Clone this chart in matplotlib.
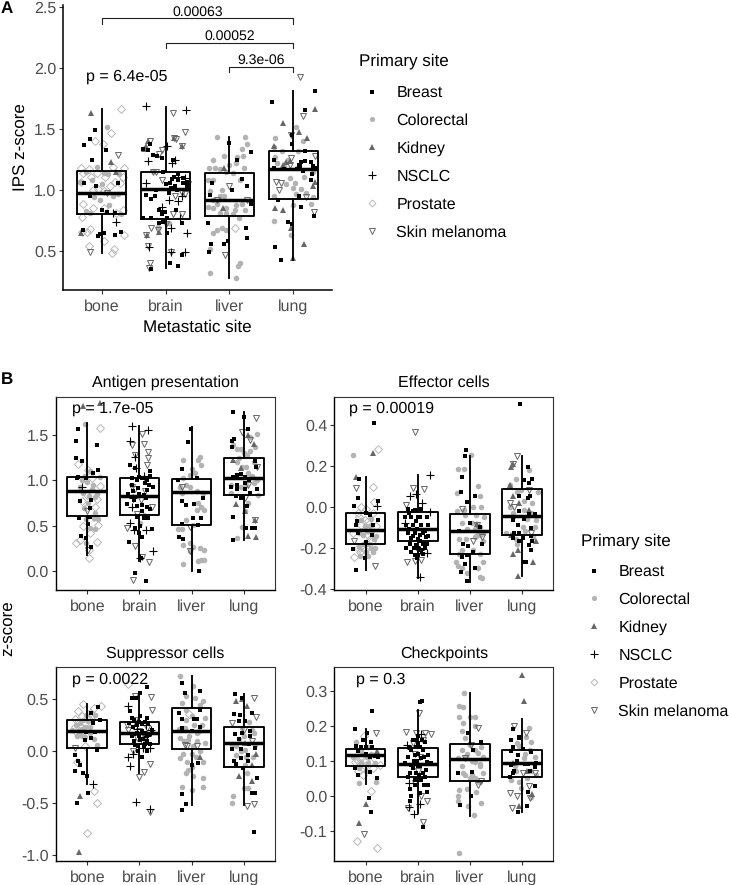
import numpy as np
import matplotlib
matplotlib.use('Agg')
import matplotlib.pyplot as plt
from matplotlib.lines import Line2D

plt.rcParams['font.family'] = ['Liberation Sans', 'DejaVu Sans']
plt.rcParams['text.hinting'] = 'no_hinting'
plt.rcParams['text.hinting_factor'] = 1

sites = ['bone', 'brain', 'liver', 'lung']
primary = ['Breast', 'Colorectal', 'Kidney', 'NSCLC', 'Prostate', 'Skin melanoma']

# box stats per metastatic site: q1, median, q3, whisker low, whisker high
a_boxes = [(0.80, 0.98, 1.16, 0.48, 1.67), (0.76, 1.01, 1.15, 0.36, 1.68), (0.79, 0.92, 1.14, 0.28, 1.44), (0.93, 1.17, 1.32, 0.43, 1.81)]
ag_boxes = [(0.605, 0.88, 1.04, 0.18, 1.63), (0.615, 0.83, 1.02, 0.11, 1.60), (0.51, 0.87, 1.01, 0.0, 1.59), (0.84, 1.03, 1.25, 0.34, 1.75)]
ef_boxes = [(-0.18, -0.115, -0.033, -0.31, 0.144), (-0.169, -0.108, -0.024, -0.35, 0.155), (-0.23, -0.12, -0.038, -0.366, 0.245), (-0.138, -0.048, 0.087, -0.34, 0.245)]
su_boxes = [(0.03, 0.20, 0.30, -0.31, 0.46), (0.07, 0.18, 0.28, -0.21, 0.55), (0.02, 0.196, 0.415, -0.515, 0.73), (-0.148, 0.084, 0.235, -0.515, 0.55)]
ch_boxes = [(0.086, 0.116, 0.133, 0.034, 0.19), (0.053, 0.091, 0.137, -0.05, 0.246), (0.043, 0.106, 0.148, -0.057, 0.293), (0.053, 0.093, 0.13, -0.047, 0.22)]

# panel A, IPS z-score, points as (jittered site position, value)
a_breast = [(0.89, 1.49), (0.81, 1.42), (0.73, 1.37), (1.07, 1.33), (0.85, 1.25), (0.73, 1.06), (0.91, 1.03), (0.82, 0.95),
            (1.0, 0.84), (1.09, 0.82), (1.21, 0.81), (0.71, 0.67), (0.94, 0.62), (1.03, 0.65), (0.98, 0.64), (1.21, 0.63), (1.30, 0.66), (1.26, 1.06),
            (1.65, 1.34), (1.80, 1.29), (1.86, 1.28), (1.94, 1.26), (2.11, 1.25), (1.96, 1.15), (2.13, 1.11), (2.20, 1.08), (2.07, 1.06), (2.28, 1.06),
            (2.33, 1.07), (2.15, 1.03), (2.09, 1.02), (1.70, 0.96), (1.83, 0.95), (1.78, 0.93), (1.89, 0.84), (1.99, 0.82), (1.94, 0.82), (2.16, 0.84),
            (1.65, 0.77), (1.78, 0.77), (1.89, 0.73), (1.96, 0.74), (2.25, 0.73), (2.02, 0.65), (2.07, 0.40), (2.19, 0.38), (2.25, 0.47), (1.78, 0.35),
            (2.20, 1.13), (2.27, 1.10), (2.33, 1.03), (2.10, 1.09), (2.18, 1.00), (2.0, 1.05), (2.05, 0.98), (1.85, 1.0), (1.72, 1.33), (1.76, 1.38), (1.95, 0.80), (2.02, 0.77),
            (3.0, 1.39), (3.33, 1.31), (3.12, 1.25), (2.72, 1.06), (3.19, 1.09), (3.28, 1.03), (3.04, 1.00), (2.69, 0.96), (3.33, 0.89), (2.67, 0.73),
            (3.26, 0.69), (3.28, 0.61), (2.71, 0.56), (2.91, 0.56), (2.97, 0.58), (2.68, 0.49),
            (3.66, 1.72), (4.34, 1.81), (4.19, 1.66), (3.98, 1.38), (3.98, 1.45), (4.19, 1.32), (4.12, 1.23), (4.09, 1.21), (4.27, 1.23), (4.30, 1.20),
            (4.35, 1.18), (3.69, 1.18), (3.69, 1.25), (4.27, 1.08), (4.09, 0.95), (4.12, 0.86), (4.33, 0.79), (3.91, 0.74), (3.98, 0.72), (3.72, 0.53), (3.80, 0.43), (3.76, 0.92), (4.15, 1.16),
            (4.10, 1.20), (4.18, 1.24), (4.05, 1.17), (4.29, 1.13), (3.85, 1.17)]
a_colorectal = [(1.09, 1.52), (0.66, 1.07), (1.03, 1.14), (1.18, 0.95), (0.97, 0.92), (0.82, 0.81),
                (0.75, 1.15), (0.92, 1.19), (1.10, 1.13), (1.27, 1.13), (0.85, 1.08), (1.0, 1.05), (1.25, 0.97), (0.88, 0.94), (1.12, 0.88), (0.76, 0.83), (1.30, 0.80),
                (1.80, 1.16), (2.05, 0.73), (1.88, 0.70),
                (2.80, 1.44), (3.25, 1.44), (3.27, 1.38), (3.19, 1.34), (3.12, 1.27), (3.21, 1.28), (2.91, 1.28), (2.74, 1.25), (2.68, 1.18), (2.77, 1.18),
                (2.85, 1.17), (3.0, 1.21), (2.95, 1.15), (3.06, 1.14), (2.67, 1.08), (2.74, 1.08), (3.16, 1.08), (2.88, 1.0), (2.69, 0.99), (2.85, 0.95),
                (2.80, 0.89), (2.67, 0.86), (2.74, 0.85), (2.95, 0.85), (3.11, 0.88), (3.19, 0.89), (3.08, 0.84), (3.24, 0.84), (2.85, 0.81), (2.95, 0.81),
                (2.88, 0.69), (2.80, 0.67), (2.95, 0.67), (2.74, 0.65), (2.69, 0.52), (2.70, 0.32), (3.11, 0.28), (3.17, 0.40), (3.14, 0.38),
                (3.22, 1.18), (3.10, 1.22), (2.92, 0.95), (3.05, 0.80), (2.75, 0.92), (3.15, 0.77),
                (4.04, 1.52), (3.71, 1.43), (3.69, 1.35), (3.82, 1.32), (3.91, 1.25), (4.02, 1.06), (3.99, 1.02), (4.16, 1.11), (4.12, 1.01), (4.27, 0.89), (3.70, 0.75), (3.97, 0.63), (4.04, 0.97), (4.20, 0.98),
                (3.85, 1.20), (4.08, 1.32), (4.30, 1.15), (3.95, 1.10), (3.88, 1.05), (4.15, 1.40), (3.75, 1.22), (4.05, 1.18), (3.70, 0.95), (4.31, 0.94), (4.0, 0.88), (3.72, 1.27)]
a_kidney = [(0.84, 1.63), (1.14, 1.23), (1.23, 1.15), (0.68, 0.65), (1.69, 1.36), (1.73, 1.40), (1.66, 1.34), (1.71, 0.63), (1.89, 0.66), (2.14, 1.43), (2.26, 1.36),
            (2.91, 1.18), (2.90, 0.85), (3.84, 1.55), (4.34, 1.67), (4.09, 1.48), (4.22, 1.43), (3.69, 1.36), (3.84, 1.21), (3.71, 0.85), (3.84, 0.84), (4.17, 0.56), (4.0, 0.44), (3.96, 0.69), (4.34, 1.07),
            (3.89, 1.23), (3.95, 1.24), (4.30, 1.03)]
a_nsclc = [(1.23, 0.74), (1.18, 0.81), (1.69, 1.69), (2.32, 1.66), (2.03, 1.36), (1.73, 1.24), (2.10, 1.22), (2.15, 1.25), (1.69, 1.06), (1.94, 0.86), (2.06, 0.92),
           (2.20, 0.91), (2.25, 0.95), (2.08, 0.69), (2.34, 0.65), (1.74, 0.53), (2.08, 0.49), (2.30, 0.49), (2.22, 0.77), (2.30, 1.10), (2.20, 1.11)]
a_prostate = [(1.30, 1.67), (1.14, 1.47), (0.89, 1.40), (1.02, 1.38), (1.35, 1.18), (0.67, 1.18), (0.80, 1.17), (0.71, 1.14), (0.92, 1.14), (0.83, 1.11), (1.18, 1.19),
              (1.34, 1.11), (0.95, 1.01), (1.05, 1.11), (1.21, 1.07), (1.29, 1.06), (0.68, 1.07), (0.86, 1.00), (1.03, 0.99), (1.13, 1.03), (0.71, 0.89), (0.86, 0.85),
              (1.03, 0.85), (1.34, 0.84), (0.70, 0.78), (1.23, 0.81), (0.69, 0.66), (0.81, 0.68), (0.77, 0.66), (1.35, 0.63), (1.04, 0.58), (0.80, 0.54), (1.19, 0.52), (1.16, 0.48), (3.09, 0.69)]
a_skin = [(0.82, 0.49), (1.26, 1.29), (1.08, 0.98), (2.11, 1.63), (2.30, 1.48), (2.14, 1.43), (1.76, 1.40), (2.26, 1.36), (1.94, 1.33), (1.81, 1.15), (1.94, 1.08), (2.30, 0.97),
          (2.26, 0.80), (2.11, 0.80), (1.77, 0.69), (1.88, 0.67), (1.70, 0.63), (1.73, 0.54), (1.74, 0.36), (2.08, 0.49), (3.0, 1.03), (2.93, 0.47), (2.80, 0.92), (3.27, 0.92),
          (1.85, 1.15), (1.90, 1.30), (2.17, 1.42), (2.35, 1.05), (2.15, 0.95), (2.26, 0.98), (2.01, 0.72), (1.75, 0.40),
          (4.10, 1.93), (4.15, 1.61), (3.96, 1.45), (3.96, 1.26), (4.34, 1.28), (3.73, 1.07), (3.78, 1.0), (4.33, 0.82), (4.20, 0.94), (3.95, 1.21), (3.80, 1.06)]

# panel B, antigen presentation
ag_breast = [(0.82, 1.56), (0.78, 1.43), (1.19, 1.39), (0.79, 1.24), (0.89, 1.21), (1.20, 1.11), (0.83, 1.04), (0.97, 1.03), (1.11, 1.08), (0.80, 1.02),
             (0.86, 0.77), (1.08, 0.78), (1.06, 0.70), (0.85, 0.58), (1.02, 0.52), (0.88, 0.39), (0.97, 0.36), (1.08, 0.27), (1.06, 0.60),
             (1.81, 1.17), (2.0, 1.04), (1.85, 1.02), (2.04, 1.03), (2.14, 1.0), (2.20, 1.10), (2.20, 1.05), (2.26, 0.93), (2.14, 0.89), (1.98, 0.91), (1.88, 0.88),
             (1.78, 0.85), (2.08, 0.84), (1.76, 0.74), (2.04, 0.73), (2.14, 0.71), (2.20, 0.68), (1.95, 0.60), (2.17, 0.58), (2.24, 0.46), (1.80, 0.32), (2.04, 0.38),
             (1.92, -0.02), (2.12, -0.11), (2.03, 0.14), (1.92, 1.13),
             (1.95, 1.0), (2.10, 0.97), (2.0, 0.85), (2.12, 0.80), (1.90, 0.78), (2.05, 0.66), (1.92, 0.48), (2.02, 0.50), (1.85, 0.95), (2.18, 0.95), (1.95, 0.72), (2.08, 0.58), (2.0, 0.42),
             (2.98, 1.57), (2.94, 1.42), (2.81, 1.12), (3.10, 1.03), (2.74, 1.0), (2.81, 0.77), (2.89, 0.73), (3.22, 0.81), (3.04, 0.74), (3.02, 0.59), (3.19, 0.59),
             (2.81, 0.52), (3.13, 0.51), (2.76, 0.38), (2.84, 0.35), (3.15, 0.0),
             (3.80, 1.75), (4.01, 1.70), (4.09, 1.57), (3.81, 1.45), (3.77, 1.43), (3.77, 1.37), (4.22, 1.21), (4.24, 1.15), (3.87, 1.06), (3.94, 1.07), (3.80, 1.04),
             (4.03, 1.04), (3.75, 0.93), (3.87, 0.90), (4.03, 0.97), (4.25, 0.90), (4.12, 0.86), (3.85, 0.83), (3.94, 0.81), (4.06, 0.72), (3.80, 0.60), (4.04, 0.47),
             (4.22, 0.48), (4.15, 0.48), (3.79, 0.34), (3.99, 0.82), (4.02, 0.90), (3.88, 0.95), (4.10, 1.0)]
ag_colorectal = [(0.96, 1.62), (0.89, 1.0), (1.11, 0.95), (0.92, 0.86), (1.02, 0.75), (1.15, 0.64), (1.21, 0.57), (0.86, 0.93), (1.24, 1.04), (0.97, 0.31), (1.15, 0.46),
                 (0.95, 1.05), (1.05, 1.10), (1.0, 0.98), (1.09, 0.90), (1.14, 0.82), (0.94, 0.70), (1.06, 0.48), (1.12, 0.58), (1.18, 0.85), (0.98, 0.57), (1.03, 0.83),
                 (2.08, 0.62), (2.01, 0.53),
                 (2.84, 1.22), (3.16, 1.26), (3.13, 1.22), (3.19, 1.17), (3.0, 1.12), (3.06, 1.08), (2.97, 1.06), (2.84, 1.02), (2.90, 0.95), (2.78, 0.93), (2.97, 0.93),
                 (2.81, 0.86), (3.10, 0.88), (3.22, 0.86), (3.13, 0.75), (3.19, 0.71), (3.10, 0.67), (3.24, 0.67), (2.74, 0.46), (2.81, 0.46), (2.90, 0.56), (3.03, 0.51),
                 (2.84, 0.29), (2.97, 0.31), (3.03, 0.27), (3.16, 0.25), (3.24, 0.23), (2.97, 0.22), (3.13, 0.11), (3.19, 0.12), (3.24, 0.12), (2.84, 0.08),
                 (4.25, 1.51), (4.12, 1.48), (3.87, 1.35), (3.80, 1.39), (4.06, 1.28), (4.22, 1.37), (3.96, 1.15), (4.09, 1.08), (4.25, 1.0), (3.75, 0.95), (3.94, 0.93),
                 (4.19, 0.97), (4.28, 0.84), (3.75, 0.86), (3.96, 0.49), (3.87, 0.36), (4.09, 0.75), (4.03, 0.66),
                 (4.05, 1.15), (4.0, 1.30), (4.15, 1.05), (3.90, 1.25), (4.05, 0.95), (3.88, 1.20), (4.20, 1.20), (3.95, 1.35), (4.12, 1.32)]
ag_kidney = [(0.92, 1.82), (1.24, 1.85), (3.80, 1.22), (3.94, 1.13), (4.19, 1.40), (4.09, 1.50), (3.85, 0.74), (4.03, 0.66), (4.09, 0.39), (4.24, 0.38), (4.22, 0.56)]
ag_nsclc = [(0.90, 0.93), (1.85, 1.60), (2.17, 1.55), (1.81, 1.43), (1.92, 1.26), (1.94, 1.13), (2.08, 1.05), (1.87, 0.80), (1.85, 0.71), (1.81, 0.53), (1.90, 0.45), (2.12, 0.45), (2.26, 0.22), (2.01, 0.14)]
ag_prostate = [(1.24, 1.58), (0.83, 1.18), (1.02, 1.11), (1.24, 0.94), (1.19, 0.79), (0.99, 0.71), (1.21, 0.51), (1.19, 0.32), (0.78, 0.31), (0.86, 0.34), (1.04, 0.23), (1.04, 0.15), (1.15, 0.71), (1.05, 0.42), (0.89, 0.77),
               (0.93, 1.02), (1.09, 1.03), (1.0, 0.84), (1.13, 0.60), (0.92, 0.50)]
ag_skin = [(1.0, 0.66), (1.02, 0.23), (2.04, 1.51), (2.08, 1.40), (1.85, 1.39), (2.17, 1.31), (2.17, 1.24), (1.92, 1.28), (2.14, 1.17), (1.85, 0.93), (2.25, 0.71), (1.76, 0.47), (1.92, 0.28),
           (2.04, 0.16), (2.19, 0.10), (1.87, -0.10), (1.95, 0.63), (1.92, 0.90), (2.03, 0.78), (2.10, 0.88),
           (2.81, 0.93), (2.97, 0.49), (2.97, 0.22), (4.23, 1.69), (3.96, 1.53), (4.13, 1.44), (4.25, 1.15), (4.03, 0.81), (4.09, 0.95), (4.22, 0.56)]

# effector cells
ef_breast = [(1.16, 0.41), (0.87, 0.134), (0.85, 0.043), (0.77, 0.004), (1.24, 0.03), (1.0, -0.03), (1.08, -0.04), (1.24, -0.065), (0.84, -0.07), (0.82, -0.09), (1.14, -0.09),
             (0.85, -0.13), (1.13, -0.14), (1.01, -0.175), (0.76, -0.205), (0.98, -0.25), (0.81, -0.31),
             (1.81, -0.01), (1.94, -0.015), (2.07, -0.01), (1.75, -0.05), (1.88, -0.05), (2.01, -0.05), (2.17, -0.05), (1.78, -0.09), (1.91, -0.09), (2.07, -0.09), (2.20, -0.09),
             (1.81, -0.13), (1.94, -0.13), (2.10, -0.13), (2.20, -0.145), (2.01, -0.16), (1.85, -0.18), (1.97, -0.185), (2.10, -0.18), (1.78, -0.20), (1.88, -0.22), (2.01, -0.20),
             (2.17, -0.18), (1.94, -0.235), (2.01, -0.235), (2.07, -0.21), (1.91, -0.145),
             (1.90, -0.02), (2.05, -0.05), (1.83, -0.11), (1.98, -0.11), (2.13, -0.12), (1.87, -0.155), (2.04, -0.14), (2.15, -0.15), (1.92, -0.20), (2.05, -0.17), (1.97, -0.07), (2.13, -0.20), (1.83, -0.03), (1.99, -0.25), (2.10, -0.23),
             (2.92, 0.278), (2.90, 0.245), (2.84, 0.147), (2.83, 0.07), (3.09, 0.05), (2.94, 0.025), (3.0, -0.08), (3.19, -0.10), (2.79, -0.12), (2.87, -0.18), (2.97, -0.19), (3.06, -0.22),
             (3.24, -0.18), (2.85, -0.245), (2.94, -0.235), (2.90, -0.28), (3.09, -0.30), (2.83, -0.32), (2.94, -0.365),
             (3.96, 0.50), (4.12, 0.196), (4.20, 0.134), (4.04, 0.13), (4.14, 0.115), (3.95, 0.05), (4.15, 0.05), (4.11, 0.04), (4.24, -0.035), (4.13, -0.035), (3.82, -0.065), (3.92, -0.09),
             (4.17, -0.105), (3.95, -0.13), (4.01, -0.155), (4.17, -0.145), (4.14, -0.185), (4.20, -0.17), (3.82, -0.155), (3.95, -0.17), (4.17, -0.21), (4.03, -0.27), (4.08, -0.27),
             (3.85, -0.13), (4.03, -0.06), (3.95, -0.02)]
ef_colorectal = [(0.76, 0.25), (1.08, -0.095), (1.17, -0.16), (1.04, -0.18), (1.11, -0.20), (1.20, -0.145), (0.92, -0.065), (0.98, -0.095), (0.88, -0.195), (1.14, -0.22),
                 (0.95, -0.14), (1.02, -0.12), (1.10, -0.06), (0.88, -0.13), (1.05, -0.24), (0.90, -0.24), (1.0, -0.22), (1.12, -0.12), (1.18, -0.20), (0.95, -0.18),
                 (3.03, 0.25), (2.77, 0.185), (2.88, 0.183), (3.15, 0.10), (2.76, 0.065), (3.19, 0.05), (3.22, 0.0), (2.76, -0.02), (2.89, -0.015), (3.06, 0.0), (3.28, -0.05),
                 (2.85, -0.08), (2.94, -0.11), (3.09, -0.11), (3.19, -0.10), (3.25, -0.13), (2.79, -0.16), (2.92, -0.16), (3.12, -0.145), (2.74, -0.27), (2.77, -0.29),
                 (3.25, -0.27), (3.15, -0.30), (2.94, -0.325), (3.19, -0.345), (3.24, -0.35), (3.06, -0.21), (2.85, -0.21),
                 (3.15, -0.12), (3.20, -0.14), (3.10, -0.15), (3.25, -0.17), (3.05, -0.08), (2.90, -0.04), (3.12, -0.04), (2.80, -0.23), (3.20, -0.23), (2.85, -0.30),
                 (4.14, 0.18), (3.89, 0.136), (3.76, 0.105), (3.98, 0.08), (4.30, 0.07), (3.76, 0.0), (4.20, 0.017), (4.04, -0.015), (4.27, -0.065), (3.82, -0.03), (4.01, -0.10), (3.69, -0.13), (4.24, -0.10), (3.89, -0.16),
                 (4.10, -0.06), (4.03, 0.03), (3.90, 0.07), (4.18, -0.03), (4.05, -0.12), (3.90, -0.18), (4.22, -0.15)]
ef_kidney = [(0.81, 0.147), (1.15, 0.26), (3.14, -0.085), (3.82, 0.21), (3.79, 0.195), (3.76, 0.105), (3.83, 0.05), (3.95, 0.017), (4.14, -0.015), (3.79, -0.14), (4.26, -0.17), (3.92, -0.21), (3.82, -0.23), (4.22, -0.27), (3.93, -0.34)]
ef_nsclc = [(1.22, 0.005), (2.23, 0.154), (1.85, 0.053), (1.96, 0.063), (2.09, 0.017), (2.23, -0.025), (1.75, -0.08), (2.17, -0.227), (2.05, -0.345), (2.04, -0.21)]
ef_prostate = [(1.24, 0.283), (1.14, 0.095), (1.17, 0.025), (0.92, 0.0), (0.85, -0.03), (0.98, -0.065), (0.76, -0.13), (0.92, -0.09), (1.04, -0.115), (1.20, -0.095), (0.78, -0.245), (0.89, -0.22), (0.98, -0.21), (1.08, -0.16),
               (0.88, -0.05), (1.05, -0.07), (1.12, -0.17), (0.95, -0.225), (1.05, -0.14), (0.85, -0.20), (1.15, -0.03), (1.0, -0.01)]
ef_skin = [(0.82, 0.09), (1.19, -0.29), (0.78, -0.17), (1.94, 0.363), (2.12, 0.084), (1.90, 0.09), (1.80, -0.27), (2.07, -0.26), (1.94, -0.265), (1.78, 0.01),
           (2.85, -0.01), (3.06, -0.17), (3.23, -0.15), (3.14, -0.09), (3.90, 0.245), (3.83, 0.21), (3.76, 0.02), (3.85, 0.0), (4.14, 0.08), (3.82, -0.055), (4.17, -0.13)]

# suppressor cells
su_breast = [(1.20, 0.425), (1.08, 0.37), (1.24, 0.30), (1.10, 0.27), (0.97, 0.19), (1.15, 0.19), (0.96, 0.11), (1.08, 0.13), (1.18, 0.015), (0.76, -0.03), (0.83, -0.09), (0.86, -0.13),
             (0.76, -0.19), (0.91, -0.21), (0.99, -0.24), (1.02, -0.40), (0.81, -0.50),
             (2.15, 0.62), (2.01, 0.56), (1.94, 0.515), (1.85, 0.515), (1.82, 0.39), (1.85, 0.32), (2.01, 0.34), (2.14, 0.32), (1.88, 0.24), (2.04, 0.26), (2.17, 0.27), (1.95, 0.18), (2.11, 0.18),
             (1.85, 0.145), (2.24, 0.21), (2.01, 0.11), (2.14, 0.10), (1.92, 0.065), (2.08, 0.05), (1.98, 0.0), (2.04, -0.05), (2.14, 0.0),
             (1.90, 0.30), (1.95, 0.25), (2.10, 0.28), (2.05, 0.20), (1.90, 0.17), (2.15, 0.15), (2.0, 0.15), (2.07, 0.12), (1.90, 0.10), (2.20, 0.07), (1.98, 0.05), (2.0, 0.28), (1.80, 0.27), (2.10, 0.07), (2.20, 0.17),
             (2.81, 0.66), (2.87, 0.56), (3.16, 0.585), (3.16, 0.40), (2.76, 0.37), (3.10, 0.31), (2.81, 0.31), (2.81, 0.225), (3.16, 0.24), (3.0, -0.13), (3.12, -0.11), (2.82, -0.41), (2.90, -0.51), (2.81, -0.56), (3.0, 0.20), (3.05, 0.31),
             (3.84, 0.55), (3.96, 0.515), (3.81, 0.36), (3.93, 0.35), (4.15, 0.37), (4.03, 0.29), (3.90, 0.29), (3.84, 0.17), (3.96, 0.18), (4.12, 0.145), (4.22, 0.03), (3.77, 0.02), (3.94, -0.06),
             (4.09, -0.03), (3.81, -0.09), (3.98, -0.16), (4.25, -0.26), (4.15, -0.40), (4.22, -0.40), (4.20, -0.78),
             (3.90, 0.12), (4.10, 0.07), (3.95, 0.02), (4.13, 0.20), (3.85, -0.12), (4.08, -0.09)]
su_colorectal = [(0.86, 0.27), (0.96, 0.24), (0.70, 0.21), (0.80, 0.145), (0.89, 0.145), (1.18, 0.065), (1.15, 0.35), (1.05, 0.24),
                 (0.92, 0.30), (1.02, 0.29), (0.85, 0.20), (0.78, 0.25), (0.98, 0.35), (1.12, 0.12), (0.90, 0.22), (0.95, 0.14), (1.05, 0.18),
                 (2.78, 0.73), (3.02, 0.63), (3.22, 0.49), (2.90, 0.53), (3.06, 0.51), (2.81, 0.47), (3.16, 0.45), (2.90, 0.40), (3.26, 0.32), (3.0, 0.34), (2.87, 0.225), (3.10, 0.18), (2.78, 0.13),
                 (2.94, 0.11), (3.26, 0.08), (2.84, -0.02), (3.0, -0.02), (2.78, -0.06), (3.16, 0.0), (3.22, -0.10), (2.90, -0.21), (3.03, -0.24), (3.22, -0.26), (2.94, -0.18), (2.81, -0.34), (3.22, -0.34), (3.0, -0.37),
                 (2.90, 0.30), (3.05, 0.25), (2.95, 0.15), (3.10, 0.10), (3.20, 0.25), (2.85, 0.10), (3.02, 0.05), (3.15, 0.20), (2.75, 0.22), (3.08, -0.05), (2.92, -0.10), (3.0, -0.15),
                 (3.96, 0.225), (4.15, 0.21), (3.77, 0.065), (4.03, 0.016), (4.22, 0.065), (4.03, -0.13), (4.06, -0.21), (4.0, -0.355), (3.80, -0.43), (3.78, -0.50), (4.09, -0.355),
                 (3.90, 0.12), (4.0, 0.15), (4.10, 0.28), (3.95, 0.0), (4.05, -0.05), (3.85, -0.03), (4.18, -0.05), (4.20, 0.18), (3.85, 0.05)]
su_kidney = [(0.86, -0.43), (0.84, -0.97), (3.16, -0.05), (3.85, 0.49), (3.97, 0.50), (4.07, 0.44), (4.03, 0.08), (4.24, -0.02), (4.15, -0.13), (3.90, -0.235), (4.15, -0.28)]
su_nsclc = [(1.10, -0.31), (1.79, 0.44), (2.22, 0.21), (1.79, -0.05), (1.81, -0.145), (1.94, -0.49), (2.20, -0.555), (2.20, 0.03), (2.14, 0.145), (1.88, -0.02), (2.12, 0.25), (1.96, 0.22), (2.07, 0.03)]
su_prostate = [(0.91, 0.46), (1.26, 0.44), (1.12, 0.42), (0.83, 0.39), (0.76, 0.24), (0.89, 0.34), (0.99, 0.31), (0.83, 0.21), (0.92, 0.19), (0.76, 0.31), (1.05, 0.37), (0.96, 0.05),
               (0.82, 0.28), (0.95, 0.27), (0.87, 0.24), (0.80, 0.18), (1.10, 0.35), (1.0, 0.22),
               (0.80, -0.10), (1.13, -0.38), (1.19, -0.50), (1.0, -0.79), (1.79, 0.65), (2.96, 0.36)]
su_skin = [(0.76, 0.03), (1.92, 0.53), (2.22, 0.525), (2.25, 0.40), (2.20, -0.12), (2.09, -0.20), (1.99, -0.25), (2.20, -0.58), (1.79, 0.21), (1.88, 0.0), (1.76, 0.25),
           (2.0, 0.20), (1.95, 0.13), (2.10, 0.13), (1.85, 0.25), (2.15, 0.23), (2.05, 0.10), (1.92, 0.30),
           (2.87, 0.06), (3.11, 0.055), (2.91, 0.05), (4.20, 0.515), (4.24, 0.33), (3.77, 0.27), (4.06, -0.525), (4.19, -0.505), (4.0, 0.21), (4.15, 0.10)]

# checkpoints
ch_breast = [(0.79, 0.19), (1.13, 0.243), (1.03, 0.18), (0.82, 0.143), (0.91, 0.14), (1.11, 0.155), (1.13, 0.14), (1.01, 0.12), (1.24, 0.11), (1.08, 0.11), (0.85, 0.127), (0.79, 0.08), (0.85, 0.06),
             (1.09, 0.068), (1.22, 0.05), (1.06, -0.007), (1.10, -0.045), (1.18, 0.115), (0.95, 0.16), (1.0, 0.14),
             (2.09, 0.27), (2.04, 0.267), (1.91, 0.16), (2.01, 0.17), (2.13, 0.155), (1.85, 0.136), (1.97, 0.14), (2.10, 0.13), (2.20, 0.117), (1.81, 0.112), (1.94, 0.117), (2.07, 0.108), (2.17, 0.098),
             (1.88, 0.089), (1.75, 0.093), (2.01, 0.084), (2.26, 0.093), (1.85, 0.065), (1.97, 0.065), (2.10, 0.065), (1.81, 0.055), (1.94, 0.046), (2.07, 0.046), (2.20, 0.03), (2.13, 0.055), (2.17, 0.012),
             (1.88, 0.0), (2.04, 0.008), (1.85, -0.016), (2.10, -0.088),
             (1.95, 0.16), (2.05, 0.14), (2.0, 0.12), (1.88, 0.13), (2.12, 0.11), (1.92, 0.10), (2.05, 0.085), (2.15, 0.075), (1.90, 0.08), (2.03, 0.06), (1.95, 0.03), (2.12, 0.03), (1.85, 0.02), (2.0, 0.15), (2.08, 0.16), (1.99, 0.10),
             (2.96, 0.18), (3.22, 0.155), (3.06, 0.131), (2.77, 0.065), (3.04, 0.067), (3.03, 0.0), (2.81, -0.026),
             (3.83, 0.19), (3.79, 0.16), (3.95, 0.168), (3.83, 0.14), (4.01, 0.134), (3.79, 0.127), (3.92, 0.117), (4.17, 0.124), (4.27, 0.093), (3.79, 0.089), (4.24, 0.082), (3.76, 0.055), (3.83, 0.065), (4.25, 0.027), (4.12, 0.01), (3.92, -0.045), (4.09, -0.03),
             (3.90, 0.10), (4.05, 0.09), (4.15, 0.07), (3.95, 0.165), (3.85, 0.07), (4.12, 0.09)]
ch_colorectal = [(0.82, 0.155), (0.95, 0.12), (0.76, 0.11), (0.92, 0.093), (1.14, 0.117), (1.19, 0.093), (0.87, 0.036), (1.20, 0.04), (1.04, 0.093),
                 (0.92, 0.13), (1.02, 0.11), (1.10, 0.12), (0.88, 0.08), (1.0, 0.07), (1.05, 0.14),
                 (2.88, 0.295), (2.79, 0.257), (2.87, 0.253), (2.80, 0.225), (3.0, 0.225), (3.09, 0.225), (2.87, 0.208), (2.85, 0.184), (3.09, 0.198), (2.90, 0.165), (3.0, 0.146), (3.22, 0.14), (3.15, 0.122),
                 (2.77, 0.108), (2.93, 0.112), (3.25, 0.112), (2.85, 0.084), (3.09, 0.098), (3.19, 0.084), (2.87, 0.065), (3.0, 0.05), (3.25, 0.065), (2.77, 0.0), (2.77, -0.016), (3.22, -0.02), (3.12, 0.012), (2.96, -0.03), (3.07, -0.056), (2.79, -0.162), (2.79, 0.017),
                 (2.95, 0.12), (3.10, 0.13), (3.05, 0.10), (3.20, 0.09), (2.90, 0.06), (3.10, 0.05), (3.18, 0.04), (2.95, 0.02), (3.05, 0.06), (2.85, 0.13),
                 (4.14, 0.193), (4.08, 0.168), (4.17, 0.155), (3.95, 0.141), (4.24, 0.112), (4.04, 0.108), (3.87, 0.084), (4.17, 0.07), (3.79, 0.046), (3.98, 0.022), (4.17, -0.002), (4.27, 0.06),
                 (3.90, 0.15), (4.05, 0.12), (3.88, 0.07), (4.10, 0.05), (3.95, 0.04), (4.15, 0.13)]
ch_kidney = [(1.0, -0.023), (0.87, -0.078), (1.22, 0.127), (4.0, 0.346), (4.03, 0.27), (4.20, 0.006), (3.95, -0.03), (4.09, 0.07), (3.82, 0.093)]
ch_nsclc = [(2.07, 0.177), (1.80, 0.146), (1.83, 0.036), (1.83, -0.032), (2.04, -0.023), (1.93, -0.051), (2.01, 0.093)]
ch_prostate = [(0.96, 0.17), (0.79, 0.098), (0.89, 0.093), (0.98, 0.084), (0.85, 0.07), (1.10, 0.015), (0.84, -0.128), (1.22, -0.15), (1.08, 0.098), (1.27, 0.089),
               (0.90, 0.11), (1.0, 0.10), (0.85, 0.10), (0.95, 0.06), (1.15, 0.08)]
ch_skin = [(1.20, 0.18), (0.97, -0.11), (2.03, 0.236), (1.78, 0.182), (1.97, 0.18), (2.13, 0.18), (2.25, 0.176), (1.81, -0.035), (2.10, -0.076), (2.18, -0.014), (2.07, 0.0), (1.94, 0.036),
           (1.95, 0.12), (2.05, 0.11), (2.10, 0.16), (1.90, 0.15), (2.0, 0.07),
           (3.16, 0.193), (3.03, 0.146), (2.90, 0.108), (3.15, 0.031), (3.22, 0.041), (3.85, 0.20), (4.08, 0.18), (4.01, 0.065), (4.14, 0.027), (3.76, 0.008), (3.90, 0.0), (3.81, -0.035), (4.16, -0.007), (4.24, 0.065)]

# matplotlib marker style for each primary site
styles = {
    'Breast': dict(marker='s', ms=3.5, mfc='black', mec='black', mew=0),
    'Colorectal': dict(marker='o', ms=4.0, mfc='#b3b3b3', mec='#b3b3b3', mew=0),
    'Kidney': dict(marker='^', ms=4.6, mfc='#666666', mec='#666666', mew=0),
    'NSCLC': dict(marker='+', ms=5.6, mfc='none', mec='black', mew=0.8),
    'Prostate': dict(marker='D', ms=3.8, mfc='none', mec='#b8b8b8', mew=0.7),
    'Skin melanoma': dict(marker='v', ms=4.8, mfc='none', mec='#666666', mew=0.7),
}
draw_order = ['Prostate', 'Colorectal', 'Kidney', 'Skin melanoma', 'Breast', 'NSCLC']

W, H = 729, 885


def make_axes(fig, left, right, top, bottom, ylim):
    # pixel box from the reference turned into figure fractions
    ax = fig.add_axes([left / W, 1 - bottom / H, (right - left) / W, (bottom - top) / H])
    ax.set_xlim(0.4, 4.6)
    ax.set_ylim(*ylim)
    return ax


def draw_panel(ax, boxes, points, yticks, ylabels):
    for site in draw_order:
        pts = np.array(points[site]).T
        ax.plot(pts[0], pts[1], ls='none', zorder=2, **styles[site])
    stats = [dict(q1=b[0], med=b[1], q3=b[2], whislo=b[3], whishi=b[4], fliers=[]) for b in boxes]
    ax.bxp(stats, positions=[1, 2, 3, 4], widths=0.76, showcaps=False, showfliers=False, zorder=3,
           boxprops=dict(color='black', lw=1.35), whiskerprops=dict(color='black', lw=1.35),
           medianprops=dict(color='black', lw=2.5, solid_capstyle='butt'))
    ax.set_xlim(0.4, 4.6)
    ax.set_xticks([1, 2, 3, 4], sites)
    ax.set_yticks(yticks, ylabels)
    ax.tick_params(axis='both', labelsize=11.2, labelcolor='#4d4d4d', color='#333333', length=2.6, width=0.8, pad=2.5)
    ax.tick_params(axis='x', pad=4)


def add_legend(fig, x, title_y, rows_y):
    fig.text(x / W, 1 - title_y / H, 'Primary site', fontsize=12.5, ha='left', va='center')
    handles = [Line2D([], [], ls='none', **{**styles[p], 'ms': styles[p]['ms'] * 0.92}) for p in primary]
    fig.legend(handles, primary, loc='upper left', bbox_to_anchor=(x / W, 1 - rows_y / H),
               frameon=False, fontsize=11.4, labelspacing=0.82, handletextpad=0.75, handlelength=1.6,
               borderpad=0, borderaxespad=0)


fig = plt.figure(figsize=(W / 100, H / 100), dpi=100)

# panel A
ax = make_axes(fig, 63.3, 331.7, 5, 290, (0.18, 2.52))
draw_panel(ax, a_boxes, dict(zip(primary, [a_breast, a_colorectal, a_kidney, a_nsclc, a_prostate, a_skin])),
           [0.5, 1.0, 1.5, 2.0, 2.5], ['0.5', '1.0', '1.5', '2.0', '2.5'])
ax.spines[['top', 'right']].set_visible(False)
ax.spines[['left', 'bottom']].set_linewidth(1.1)
ax.set_xlabel('Metastatic site', fontsize=12.6, labelpad=4)
ax.set_ylabel('IPS z-score', fontsize=12.6, labelpad=3)
ax.text(0.755, 1.93, 'p = 6.4e-05', fontsize=11.3, ha='left', va='center')
brackets = [(1, 4, 2.41, '0.00063', 2.46), (2, 4, 2.21, '0.00052', 2.265), (3, 4, 2.015, '9.3e-06', 2.07)]
for x0, x1, level, label, label_y in brackets:
    ax.plot([x0, x0, x1, x1], [level - 0.045, level, level, level - 0.045], color='#222222', lw=0.8, zorder=4)
    ax.text((x0 + x1) / 2, label_y, label, fontsize=10.4, ha='center', va='center')
add_legend(fig, 359, 61, 85.5)

# panel B
panels = [
    ('Antigen presentation', ag_boxes, [ag_breast, ag_colorectal, ag_kidney, ag_nsclc, ag_prostate, ag_skin],
     (56, 275, 396.7, 590), (-0.207, 1.92), [0.0, 0.5, 1.0, 1.5], ['0.0', '0.5', '1.0', '1.5'], 'p = 1.7e-05', 0.70, 1.79),
    ('Effector cells', ef_boxes, [ef_breast, ef_colorectal, ef_kidney, ef_nsclc, ef_prostate, ef_skin],
     (334.3, 553.3, 396.7, 590), (-0.407, 0.537), [-0.4, -0.2, 0.0, 0.2, 0.4], ['-0.4', '-0.2', '0.0', '0.2', '0.4'], 'p = 0.00019', 0.68, 0.48),
    ('Suppressor cells', su_boxes, [su_breast, su_colorectal, su_kidney, su_nsclc, su_prostate, su_skin],
     (56, 275, 667.3, 861), (-1.055, 0.81), [-1.0, -0.5, 0.0, 0.5], ['-1.0', '-0.5', '0.0', '0.5'], 'p = 0.0022', 0.70, 0.69),
    ('Checkpoints', ch_boxes, [ch_breast, ch_colorectal, ch_kidney, ch_nsclc, ch_prostate, ch_skin],
     (334.3, 553.3, 667.3, 861), (-0.186, 0.367), [-0.1, 0.0, 0.1, 0.2, 0.3], ['-0.1', '0.0', '0.1', '0.2', '0.3'], 'p = 0.3', 0.82, 0.331),
]
for title, boxes, pts, box_px, ylim, yticks, ylabels, ptext, px, py in panels:
    ax = make_axes(fig, box_px[0], box_px[1], box_px[2], box_px[3], ylim)
    draw_panel(ax, boxes, dict(zip(primary, pts)), yticks, ylabels)
    for side in ['top', 'right', 'left', 'bottom']:
        ax.spines[side].set_color('#333333')
        ax.spines[side].set_linewidth(0.8)
    ax.spines[['left', 'bottom']].set_color('black')
    ax.spines[['left', 'bottom']].set_linewidth(1.0)
    ax.set_title(title, fontsize=11.5, pad=7)
    ax.text(px, py, ptext, fontsize=11.3, ha='left', va='center', zorder=5)

add_legend(fig, 581, 541, 564.5)
fig.text(8 / W, 1 - 628.5 / H, 'z-score', rotation=90, fontsize=12.5, ha='center', va='center')
fig.text(1 / W, 1 - 9 / H, 'A', fontsize=12.5, fontweight='bold', ha='left', va='center')
fig.text(1 / W, 1 - 380 / H, 'B', fontsize=12.5, fontweight='bold', ha='left', va='center')

fig.savefig('out.png', dpi=100)
